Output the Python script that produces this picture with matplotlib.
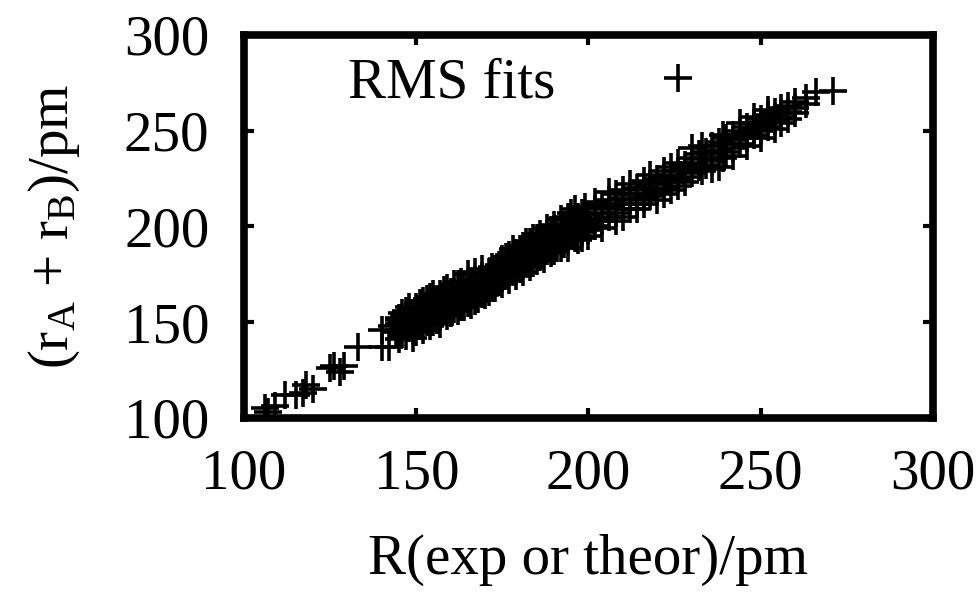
import matplotlib
matplotlib.use("Agg")
import matplotlib.pyplot as plt

plt.rcParams['font.family'] = ['Liberation Serif', 'DejaVu Serif']
plt.rcParams['mathtext.fontset'] = 'custom'
plt.rcParams['mathtext.rm'] = 'Liberation Serif'
plt.rcParams['mathtext.it'] = 'Liberation Serif:italic'

# Data: (R, rA+rB) pairs
x_low = [106, 109, 107, 112, 115, 117, 120, 118, 125, 126, 129, 128, 133, 140, 142, 140, 143, 144, 145]
y_low = [105, 106, 103, 112, 112, 113, 115, 117, 126, 127, 127, 124, 137, 137, 137, 146, 148, 145, 151]

cloud = {
    145: [146, 152, 149, 141], 146: [150, 144, 155], 147: [153, 148, 156, 143], 148: [147, 151, 158],
    149: [155, 150, 146, 142], 150: [152, 158, 149, 145], 151: [148, 155, 160], 152: [157, 151, 161, 146],
    153: [150, 154, 162], 154: [158, 163, 152, 148], 155: [155, 160, 150, 165], 156: [162, 157, 151],
    157: [153, 159, 165, 149], 158: [160, 156, 167], 159: [163, 158, 168, 153], 160: [155, 161, 166],
    161: [166, 160, 157, 170], 162: [163, 170, 156], 163: [158, 165, 161, 171], 164: [168, 163, 158],
    165: [160, 166, 171, 175], 166: [164, 169, 159], 167: [172, 161, 167, 176], 168: [166, 170, 162],
    169: [174, 165, 169, 178], 170: [171, 167, 164], 171: [176, 170, 173, 166], 172: [168, 174, 179],
    173: [178, 171, 175, 168], 174: [176, 180, 171], 175: [173, 178, 183, 170], 176: [179, 175, 184],
    177: [181, 176, 185, 172], 178: [178, 183, 188], 179: [186, 180, 177, 174], 180: [183, 188, 178],
    181: [180, 185, 190, 176], 182: [186, 182, 192], 183: [189, 184, 192, 179], 184: [186, 181, 194],
    185: [191, 187, 194, 182], 186: [188, 184, 196], 187: [193, 190, 183], 188: [187, 196, 191, 199],
    189: [193, 198, 186], 190: [190, 195, 187, 201], 191: [197, 193, 189], 192: [200, 194, 189, 204],
    193: [196, 201, 191], 194: [193, 198, 205, 189], 195: [200, 196, 207], 196: [203, 198, 194, 209],
    197: [199, 205, 193], 198: [202, 197, 207, 194], 199: [204, 200, 210], 200: [198, 206, 202, 195],
    202: [204, 209, 200, 213], 204: [207, 211, 203, 199], 206: [210, 205, 214, 218], 208: [212, 207, 203, 217],
    210: [209, 215, 212, 219, 205], 212: [214, 209, 217, 222], 214: [217, 212, 220, 209],
    216: [215, 220, 224, 212], 218: [219, 222, 216, 227], 220: [222, 225, 218, 214],
    222: [220, 226, 229, 217], 224: [227, 223, 231, 219], 226: [229, 225, 233, 221],
    228: [226, 232, 230, 223], 230: [233, 236, 228, 241], 232: [231, 235, 238], 233: [229, 242],
    234: [236, 239, 232], 236: [238, 242, 234, 230], 238: [231, 240, 244], 239: [236, 248],
    240: [243, 239, 246], 242: [245, 248, 241, 237], 244: [247, 243, 250, 254],
    246: [249, 252, 246, 242], 248: [251, 254, 248, 257], 250: [253, 250, 256, 246],
    252: [255, 258, 252, 261], 254: [257, 255, 260, 251], 256: [259, 262, 257, 254],
    258: [260, 263, 256], 260: [262, 265, 259], 263: [267, 264], 266: [270], 271: [271],
}

xs = list(x_low)
ys = list(y_low)
for k, vals in cloud.items():
    for v in vals:
        xs.append(k)
        ys.append(v)

FS = 41
fig = plt.figure(figsize=(9.8, 5.96), dpi=100)
ax = fig.add_axes([0.249, 0.2987, 0.703, 0.6426])
ax.plot(xs, ys, linestyle='none', marker='+', markersize=20, markeredgewidth=2.6,
        color='black', label='RMS fits')

ax.set_xlim(100, 300)
ax.set_ylim(100, 300)
ax.set_xticks([100, 150, 200, 250, 300])
ax.set_yticks([100, 150, 200, 250, 300])
for s in ax.spines.values():
    s.set_linewidth(5.5)
ax.tick_params(direction='in', length=7, width=3, labelsize=FS,
               top=True, right=True)
ax.tick_params(axis='x', pad=22)
ax.tick_params(axis='y', pad=25)

ax.set_xlabel('R(exp or theor)/pm', fontsize=FS, labelpad=24)
ax.set_ylabel(r'(r$_{\mathrm{A}}$ + r$_{\mathrm{B}}$)/pm', fontsize=FS, labelpad=30)

leg = ax.legend(loc='upper left', bbox_to_anchor=(0.118, 1.0), frameon=False,
                markerfirst=False, fontsize=FS, handlelength=2.0, handletextpad=1.15,
                borderaxespad=0)

fig.savefig('out.png', dpi=100)
